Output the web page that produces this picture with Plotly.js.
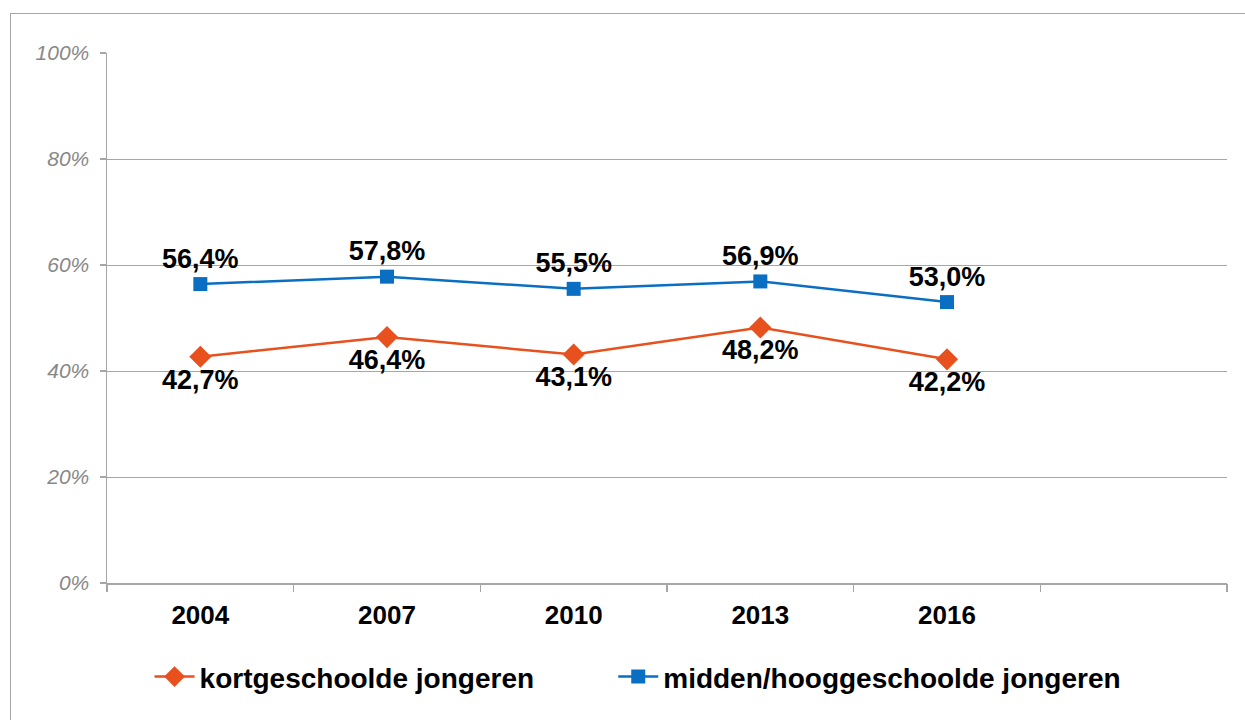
<!DOCTYPE html>
<html>
<head>
<meta charset="utf-8">
<script src="https://cdn.plot.ly/plotly-3.0.1.min.js"></script>
<style>
  html, body { margin: 0; padding: 0; background: #ffffff; overflow: hidden; }
  #frame { position: absolute; left: 10px; top: 13px; width: 1400px; height: 900px;
           border-left: 1.5px solid #a6a6a6; border-top: 1.5px solid #a6a6a6; }
  #chart { position: absolute; left: 0; top: 0; width: 1245px; height: 720px; }
</style>
</head>
<body>
<div id="frame"></div>
<div id="chart"></div>
<script>
// Data
var years = ["2004", "2007", "2010", "2013", "2016"];
var kortgeschoold = [0.427, 0.464, 0.431, 0.482, 0.422];
var middenHoog = [0.564, 0.578, 0.555, 0.569, 0.530];
var seriesNames = ["kortgeschoolde jongeren", "midden/hooggeschoolde jongeren"];
var yTicks = [0, 0.2, 0.4, 0.6, 0.8, 1.0];

var nCats = years.length + 1; // one empty category slot at the right
var xIdx = years.map(function (_, i) { return i; });
var boundaries = [];
for (var b = 0; b <= nCats; b++) boundaries.push(b - 0.5);

var FONT = "Arial, 'Liberation Sans', sans-serif";

var traces = [
  {
    x: xIdx, y: kortgeschoold, name: seriesNames[0],
    type: "scatter", mode: "lines+markers+text",
    line: { color: "#E8501E", width: 2.5 },
    marker: { symbol: "diamond", size: 17, color: "#E8501E" },
    texttemplate: "%{y:.1%}", textposition: "bottom center",
    textfont: { family: FONT, size: 27, color: "#000000", weight: "bold" },
    cliponaxis: false, hoverinfo: "skip", legend: "legend"
  },
  {
    x: xIdx, y: middenHoog, name: seriesNames[1],
    type: "scatter", mode: "lines+markers+text",
    line: { color: "#0A6FC2", width: 2.5 },
    marker: { symbol: "square", size: 14, color: "#0A6FC2" },
    texttemplate: "%{y:.1%}", textposition: "top center",
    textfont: { family: FONT, size: 27, color: "#000000", weight: "bold" },
    cliponaxis: false, hoverinfo: "skip", legend: "legend2"
  },
  {
    // invisible helper trace to carry the boundary tick axis
    x: [boundaries[0]], y: [0], xaxis: "x2", yaxis: "y",
    mode: "markers", marker: { opacity: 0 }, showlegend: false, hoverinfo: "skip"
  }
];

var legendFont = { family: FONT, size: 28, color: "#000000", weight: "bold" };

var layout = {
  width: 1245, height: 720,
  margin: { l: 107, r: 18, t: 53, b: 137 },
  paper_bgcolor: "rgba(0,0,0,0)",
  plot_bgcolor: "rgba(0,0,0,0)",
  separators: ",.",
  font: { family: FONT, color: "#000000" },
  showlegend: true,
  xaxis: {
    range: [-0.5, nCats - 0.5],
    tickvals: xIdx, ticktext: years,
    ticks: "", showgrid: false, zeroline: false,
    showline: true, linecolor: "#a6a6a6", linewidth: 1.5,
    tickfont: { family: FONT, size: 26, color: "#000000", weight: "bold" },
    ticklabelstandoff: 8,
    fixedrange: true
  },
  xaxis2: {
    overlaying: "x", anchor: "y", side: "bottom",
    range: [-0.5, nCats - 0.5],
    tickvals: boundaries, showticklabels: false,
    ticks: "outside", ticklen: 8, tickcolor: "#a6a6a6", tickwidth: 1.5,
    showgrid: false, zeroline: false, showline: false
  },
  yaxis: {
    range: [0, 1],
    tickvals: yTicks, tickformat: ".0%",
    ticks: "outside", ticklen: 6, tickcolor: "#a6a6a6", tickwidth: 1.5,
    showgrid: true, gridcolor: "#a6a6a6", gridwidth: 1,
    zeroline: false,
    showline: true, linecolor: "#a6a6a6", linewidth: 1.5,
    tickfont: { family: FONT, size: 21, color: "#888888", style: "italic" },
    ticklabelstandoff: 6,
    fixedrange: true
  },
  legend: {
    orientation: "h",
    x: 0.038, xanchor: "left",
    y: -0.13, yanchor: "top",
    font: legendFont, itemwidth: 40,
    bgcolor: "rgba(0,0,0,0)"
  },
  legend2: {
    orientation: "h",
    x: 0.452, xanchor: "left",
    y: -0.13, yanchor: "top",
    font: legendFont, itemwidth: 40,
    bgcolor: "rgba(0,0,0,0)"
  }
};

Plotly.newPlot("chart", traces, layout, { staticPlot: true, displayModeBar: false });
</script>
</body>
</html>
